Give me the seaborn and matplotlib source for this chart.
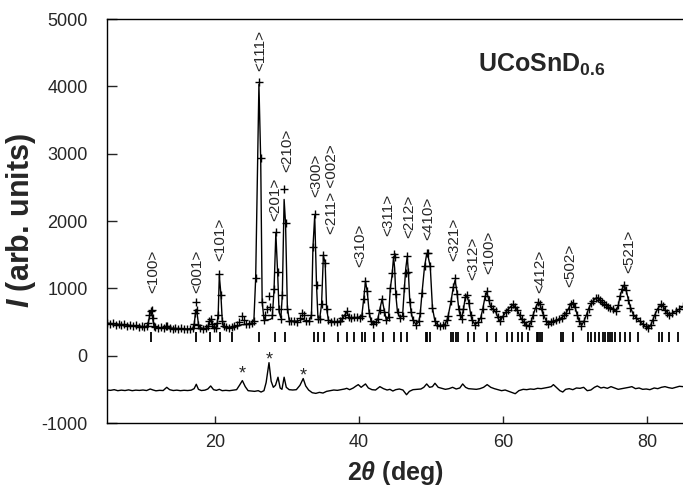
import matplotlib
matplotlib.use("Agg")
import matplotlib.pyplot as plt
import seaborn as sns
import numpy as np
import pandas as pd

# ---------------- data ----------------
two_theta = [
    5.0, 5.4, 5.8, 6.2, 6.6, 7.0, 7.4, 7.8,
    8.2, 8.6, 9.0, 9.4, 9.8, 10.2, 10.5, 10.7,
    10.9, 11.05, 11.2, 11.35, 11.5, 11.7, 12.1, 12.5,
    12.9, 13.2, 13.4, 13.7, 14.1, 14.5, 14.9, 15.3,
    15.7, 16.1, 16.5, 16.9, 17.1, 17.25, 17.4, 17.55,
    17.7, 17.9, 18.3, 18.7, 19.0, 19.2, 19.4, 19.6,
    19.85, 20.1, 20.3, 20.45, 20.6, 20.8, 21.0, 21.2,
    21.5, 21.9, 22.3, 22.7, 23.1, 23.4, 23.7, 24.0,
    24.3, 24.7, 25.1, 25.4, 25.65, 26.1, 26.35, 26.55,
    26.8, 27.0, 27.25, 27.5, 27.7, 27.95, 28.2, 28.45,
    28.7, 28.9, 29.15, 29.35, 29.6, 29.8, 30.05, 30.3,
    30.6, 31.0, 31.4, 31.8, 32.1, 32.4, 32.7, 33.1,
    33.4, 33.6, 33.85, 34.1, 34.3, 34.55, 34.8, 35.05,
    35.3, 35.5, 35.75, 36.1, 36.5, 36.9, 37.3, 37.7,
    38.0, 38.3, 38.6, 38.9, 39.3, 39.7, 40.1, 40.4,
    40.65, 40.9, 41.15, 41.4, 41.7, 42.0, 42.3, 42.6,
    42.9, 43.2, 43.5, 43.8, 44.1, 44.35, 44.6, 44.8,
    44.95, 45.1, 45.35, 45.7, 46.05, 46.3, 46.5, 46.7,
    46.85, 47.05, 47.25, 47.5, 47.9, 48.3, 48.5, 48.75,
    49.1, 49.4, 49.55, 49.9, 50.2, 50.55, 50.9, 51.25,
    51.6, 51.9, 52.2, 52.4, 52.8, 53.1, 53.35, 53.6,
    53.85, 54.05, 54.25, 54.5, 54.75, 55.0, 55.25, 55.5,
    55.75, 56.1, 56.5, 56.9, 57.2, 57.5, 57.75, 58.05,
    58.3, 58.65, 59.0, 59.3, 59.6, 60.0, 60.35, 60.7,
    61.05, 61.4, 61.7, 61.95, 62.3, 62.6, 62.9, 63.2,
    63.55, 63.9, 64.2, 64.55, 64.85, 65.1, 65.35, 65.6,
    65.95, 66.3, 66.7, 67.0, 67.4, 67.8, 68.15, 68.5,
    68.8, 69.1, 69.45, 69.7, 70.0, 70.3, 70.6, 70.9,
    71.2, 71.6, 71.9, 72.2, 72.5, 72.85, 73.2, 73.5,
    73.75, 74.0, 74.3, 74.6, 74.9, 75.3, 75.7, 76.0,
    76.25, 76.55, 76.85, 77.1, 77.4, 77.7, 78.1, 78.5,
    79.0, 79.4, 79.8, 80.2, 80.5, 80.8, 81.1, 81.5,
    81.9, 82.2, 82.5, 82.8, 83.1, 83.5, 84.0, 84.5,
    85.0,
]
y_calc = [
    485, 478, 474, 470, 466, 462, 458, 454,
    450, 446, 442, 438, 434, 430, 432, 470,
    580, 650, 640, 540, 450, 425, 418, 414,
    412, 425, 430, 415, 408, 405, 402, 400,
    398, 397, 398, 405, 460, 600, 690, 600,
    470, 420, 405, 405, 430, 500, 540, 470,
    415, 420, 470, 640, 1190, 940, 540, 430,
    415, 415, 425, 430, 440, 450, 460, 460,
    465, 475, 485, 520, 1150, 4030, 2900, 800,
    540, 530, 530, 535, 540, 560, 980, 1820,
    1230, 650, 560, 900, 2320, 1960, 720, 530,
    515, 512, 515, 525, 540, 530, 515, 520,
    600, 1600, 2080, 1050, 560, 560, 760, 1480,
    1380, 700, 530, 505, 500, 505, 510, 540,
    600, 650, 580, 550, 555, 560, 560, 600,
    840, 1100, 950, 650, 500, 475, 490, 540,
    690, 840, 680, 530, 560, 1000, 1200, 1470,
    1300, 920, 640, 570, 590, 1000, 1300, 1470,
    1260, 820, 640, 530, 465, 500, 620, 930,
    1320, 1510, 1500, 1320, 710, 510, 460, 445,
    455, 462, 520, 600, 820, 1020, 1120, 950,
    700, 600, 560, 680, 860, 900, 790, 620,
    520, 465, 490, 560, 700, 870, 940, 820,
    720, 685, 650, 560, 510, 585, 640, 690,
    725, 760, 720, 685, 600, 540, 500, 460,
    440, 500, 610, 720, 784, 770, 690, 610,
    530, 480, 490, 510, 525, 545, 565, 600,
    640, 700, 770, 790, 720, 610, 510, 450,
    500, 610, 700, 770, 810, 850, 860, 820,
    780, 760, 760, 730, 710, 680, 660, 740,
    880, 990, 1050, 970, 840, 720, 610, 560,
    510, 470, 430, 412, 450, 530, 610, 700,
    755, 740, 685, 640, 610, 630, 660, 690,
    730,
]
y_obs = [
    480, 470, 482, 462, 474, 455, 466, 447,
    458, 440, 450, 430, 441, 424, 440, 480,
    600, 665, 675, 560, 445, 420, 410, 420,
    405, 440, 445, 410, 400, 412, 395, 408,
    390, 403, 392, 415, 470, 640, 800, 680,
    460, 410, 400, 412, 440, 510, 550, 470,
    410, 412, 480, 610, 1210, 900, 520, 440,
    420, 405, 430, 440, 455, 500, 585, 530,
    470, 470, 480, 510, 1160, 4067, 2930, 790,
    530, 600, 700, 880, 720, 600, 995, 1835,
    1240, 700, 540, 908, 2480, 1964, 700, 520,
    510, 520, 505, 560, 640, 600, 520, 510,
    610, 1620, 2100, 1055, 540, 545, 760, 1490,
    1380, 700, 530, 500, 510, 495, 520, 560,
    610, 660, 580, 560, 580, 575, 555, 590,
    848, 1116, 957, 640, 510, 476, 500, 550,
    685, 848, 650, 536, 570, 1010, 1230, 1503,
    1460, 910, 655, 565, 585, 1010, 1235, 1478,
    1250, 800, 650, 536, 461, 510, 630, 933,
    1330, 1520, 1532, 1330, 710, 510, 455, 446,
    450, 461, 530, 595, 818, 1016, 1150, 917,
    700, 600, 545, 700, 870, 907, 784, 600,
    530, 461, 500, 555, 690, 880, 957, 830,
    740, 690, 660, 570, 510, 585, 650, 685,
    730, 760, 730, 685, 600, 545, 505, 455,
    436, 510, 610, 710, 790, 770, 690, 610,
    520, 476, 500, 510, 530, 540, 560, 610,
    635, 700, 770, 784, 720, 610, 510, 446,
    510, 610, 700, 780, 808, 850, 858, 830,
    790, 760, 750, 730, 710, 690, 660, 750,
    883, 990, 1056, 980, 833, 710, 610, 560,
    510, 475, 435, 412, 460, 530, 610, 700,
    760, 740, 685, 640, 610, 630, 660, 700,
    734,
]

diff_tt = [
    5.0, 5.5, 6.0, 6.5, 7.0, 7.5, 8.0, 8.5, 9.0, 9.5,
    10.0, 10.5, 11.0, 11.4, 11.8, 12.3, 12.8, 13.3, 13.7, 14.2,
    14.7, 15.2, 15.7, 16.2, 16.7, 17.1, 17.4, 17.7, 18.1, 18.6,
    19.0, 19.4, 19.8, 20.2, 20.6, 21.0, 21.5, 22.0, 22.5, 23.0,
    23.4, 23.8, 24.2, 24.6, 25.0, 25.5, 26.0, 26.4, 26.8, 27.1,
    27.5, 27.8, 28.1, 28.4, 28.75, 29.05, 29.3, 29.6, 29.9, 30.3,
    30.8, 31.3, 31.8, 32.25, 32.6, 33.0, 33.5, 34.0, 34.5, 35.0,
    35.5, 36.0, 36.5, 37.0, 37.5, 38.0, 38.3, 38.7, 39.2, 39.6,
    39.9, 40.3, 40.9, 41.3, 41.8, 42.3, 42.9, 43.4, 43.9, 44.3,
    44.7, 45.1, 45.6, 46.1, 46.6, 47.0, 47.5, 48.0, 48.6, 49.0,
    49.4, 49.8, 50.2, 50.55, 51.0, 51.5, 52.0, 52.5, 53.0, 53.5,
    54.0, 54.4, 54.8, 55.2, 55.8, 56.3, 56.8, 57.3, 57.8, 58.3,
    58.8, 59.3, 59.8, 60.3, 60.8, 61.3, 61.7, 62.2, 62.8, 63.3,
    63.8, 64.3, 64.8, 65.3, 65.8, 66.3, 66.7, 67.0, 67.4, 67.9,
    68.3, 68.7, 69.2, 69.7, 70.2, 70.7, 71.2, 71.7, 72.2, 72.7,
    73.1, 73.6, 74.0, 74.5, 75.0, 75.5, 76.0, 76.5, 77.0, 77.5,
    77.9, 78.4, 78.9, 79.4, 79.9, 80.4, 81.0, 81.5, 82.0, 82.5,
    83.0, 83.5, 84.0, 84.5, 85.0,
]
y_diff = [
    -510, -515, -505, -520, -512, -518, -508, -520, -512, -516,
    -510, -518, -495, -510, -522, -515, -518, -470, -505, -518,
    -512, -520, -514, -518, -512, -490, -425, -500, -518, -512,
    -495, -450, -505, -515, -500, -520, -515, -520, -512, -505,
    -440, -370, -460, -520, -525, -530, -520, -540, -520, -400,
    -104, -380, -470, -440, -320, -480, -500, -320, -470, -505,
    -510, -505, -440, -340, -450, -510, -550, -560, -545, -555,
    -530, -520, -510, -515, -505, -495, -485, -505, -480, -450,
    -430, -470, -420, -480, -505, -510, -460, -490, -510, -500,
    -525, -505, -495, -510, -580, -530, -505, -500, -495, -470,
    -420, -470, -460, -410, -470, -485, -500, -490, -470, -495,
    -480, -420, -470, -490, -495, -500, -490, -470, -430, -470,
    -490, -505, -520, -510, -530, -550, -565, -520, -500, -505,
    -495, -500, -485, -490, -480, -470, -460, -430, -470, -520,
    -540, -500, -490, -505, -480, -485, -470, -520, -510, -470,
    -450, -480, -470, -485, -460, -480, -500, -490, -480, -470,
    -460, -490, -480, -500, -495, -505, -480, -490, -470, -460,
    -475, -485, -470, -455, -460,
]

bragg_positions = [
    11.1, 17.4, 19.3, 20.7, 22.4, 26.1, 28.4, 29.7, 33.7, 34.3,
    35.1, 37.1, 38.3, 39.3, 40.4, 40.9, 42.1, 43.3, 44.8, 45.8,
    46.7, 49.3, 49.5, 49.9, 52.8, 53.0, 53.5, 53.7, 55.1, 56.0,
    57.8, 59.0, 60.5, 61.3, 62.1, 62.7, 63.5, 64.7, 64.9, 65.2,
    65.4, 68.1, 68.4, 69.7, 71.8, 72.2, 72.8, 73.3, 73.9, 74.2,
    74.6, 74.9, 75.2, 75.5, 76.3, 76.9, 77.6, 78.8, 81.7, 82.1,
    83.1, 84.3,
]
bragg_level = 270

hkl_labels = ["<100>", "<001>", "<101>", "<111>", "<201>", "<210>", "<300>",
              "<211> <002>", "<310>", "<311>", "<212>", "<410>", "<321>",
              "<312>", "<100>", "<412>", "<502>", "<521>"]
label_tt = [11.4, 17.5, 20.75, 26.25, 28.3, 30.1, 34.1, 36.25, 40.2, 44.05,
            47.0, 49.6, 53.2, 55.8, 58.05, 65.2, 69.4, 77.6]
label_int = [937, 937, 1400, 4226, 1994, 2723, 2351, 1800, 1324, 1771,
             1741, 1711, 1399, 1131, 1220, 937, 1027, 1235]

impurity_tt = [23.8, 27.5, 32.3]
impurity_int = [-339, -131, -374]

# ---------------- styling ----------------
sns.set_style("ticks")
plt.rcParams.update({
    "font.family": ["Liberation Sans", "DejaVu Sans"],
    "mathtext.fontset": "custom",
    "mathtext.rm": "Liberation Sans:bold",
    "mathtext.bf": "Liberation Sans:bold",
    "mathtext.it": "Liberation Sans:italic:bold",
    "axes.unicode_minus": False,
    "xtick.direction": "in",
    "ytick.direction": "in",
})

fig = plt.figure(figsize=(6.83, 4.88), dpi=100)
ax = fig.add_axes([107 / 683, 65 / 488, 576 / 683, 404 / 488])

profile = pd.DataFrame({"tt": two_theta, "obs": y_obs, "calc": y_calc})
diff = pd.DataFrame({"tt": diff_tt, "diff": y_diff})
bragg = pd.DataFrame({"tt": bragg_positions, "lvl": [bragg_level] * len(bragg_positions)})

sns.lineplot(data=profile, x="tt", y="calc", ax=ax, color="black", lw=1.0,
             sort=False, estimator=None)
sns.scatterplot(data=profile, x="tt", y="obs", ax=ax, marker="+", color="black",
                s=34, linewidth=1.0, zorder=3)
sns.scatterplot(data=bragg, x="tt", y="lvl", ax=ax, marker="|", color="black",
                s=60, linewidth=1.3)
sns.lineplot(data=diff, x="tt", y="diff", ax=ax, color="black", lw=1.0,
             sort=False, estimator=None)

for t, x, y in zip(hkl_labels, label_tt, label_int):
    ax.text(x, y, t, rotation=90, ha="center", va="bottom", fontsize=11)
for x, y in zip(impurity_tt, impurity_int):
    ax.text(x, y, "*", ha="center", va="baseline", fontsize=13)

ax.text(56.5, 4211, r"UCoSnD$_{0.6}$", fontsize=18, fontweight="bold",
        ha="left", va="baseline")

ax.set_xlim(5, 85)
ax.set_ylim(-1000, 5000)
ax.set_xticks([20, 40, 60, 80])
ax.set_yticks([-1000, 0, 1000, 2000, 3000, 4000, 5000])
ax.tick_params(axis="x", length=5, width=1, labelsize=13, pad=8)
ax.tick_params(axis="y", length=7, width=1, labelsize=13, pad=14)
for s in ["left", "bottom", "top"]:
    ax.spines[s].set_linewidth(1.0)
    ax.spines[s].set_color("black")
ax.spines["right"].set_visible(False)

ax.set_xlabel(r"$\mathrm{2}\mathit{\theta}$ (deg)", fontsize=18, fontweight="bold")
ax.set_ylabel(r"$I$ (arb. units)", fontsize=22, fontweight="bold")
ax.xaxis.set_label_coords(0.5, -0.09)
ax.yaxis.set_label_coords(-0.12, 0.5)

fig.savefig("out.png", dpi=100)
